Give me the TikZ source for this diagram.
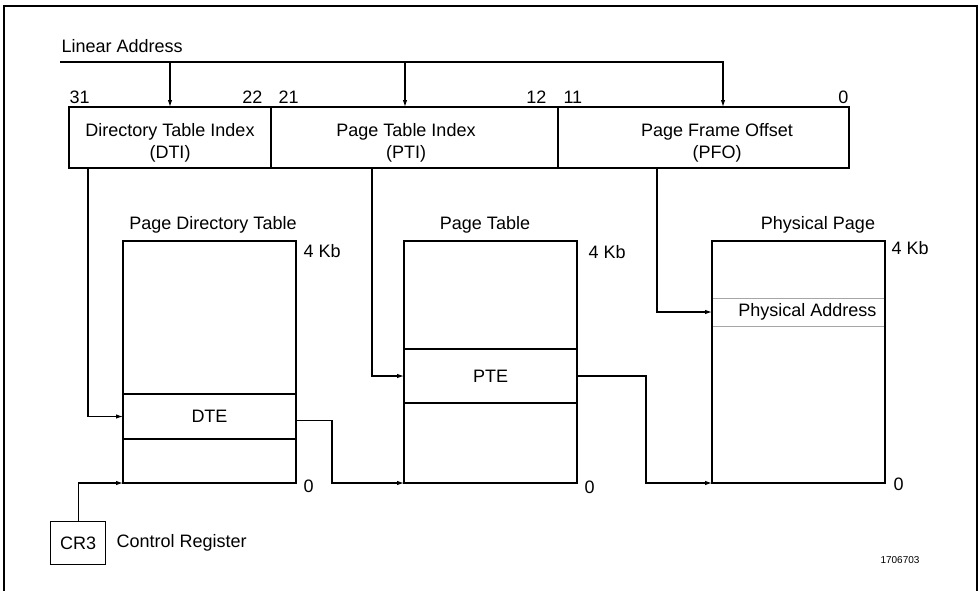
\documentclass[tikz,border=0pt]{standalone}
\usepackage{fontspec}
\setmainfont{Liberation Sans}
\usetikzlibrary{positioning,arrows.meta}

\begin{document}
\begin{tikzpicture}[
  x=1pt, y=-1pt,
  font=\fontsize{18}{22}\selectfont,
  line width=1.1pt,
  field/.style={draw, rectangle, inner sep=0pt, outer sep=0pt,
                minimum height=61pt, anchor=north west},
  cell/.style={draw, rectangle, inner sep=0pt, outer sep=0pt,
               minimum width=173pt},
  bitno/.style={inner sep=0pt},
  tlab/.style={anchor=base, inner sep=0pt},
  size/.style={anchor=base west, inner sep=0pt},
  rowline/.style={draw=black!35, line width=0.8pt},
  flow/.style={-{Latex[length=7pt,width=4.5pt]}},
]
\useasboundingbox (0,0) rectangle (979,590);

% --- frame ---
\draw[line width=1.8pt] (4,596) -- (4,6) -- (977,6) -- (977,596);

% --- linear address ---
\node[anchor=base west, inner sep=0pt] (lin) at (61,52) {Linear Address};
\node[field, minimum width=202pt] (dti) at (69,107) {};
\node[field, minimum width=287pt, right=0pt of dti] (pti) {};
\node[field, minimum width=291pt, right=0pt of pti] (pfo) {};

\node[align=center] (dtitxt) at (170,143) {Directory Table Index\\(DTI)};
\node[align=center] (ptitxt) at (406,143) {Page Table Index\\(PTI)};
\node[align=center] (pfotxt) at (717,143) {Page Frame Offset\\(PFO)};

\node[bitno, anchor=south west] (b31) at (69,104) {31};
\node[bitno, anchor=south east] (b22) at (263,104) {22};
\node[bitno, anchor=south west] (b21) at (278,104) {21};
\node[bitno, anchor=south east] (b12) at (547,104) {12};
\node[bitno, anchor=south west] (b11) at (563,104) {11};
\node[bitno, anchor=south east] (b0) at (849,104) {0};

\coordinate (bus) at (60,62);
\coordinate (inD) at ([xshift=101pt]dti.north west);
\coordinate (inP) at ([xshift=134pt]pti.north west);
\coordinate (inF) at ([xshift=165pt]pfo.north west);
\draw[flow] (bus) -| (inF);
\draw[flow] (bus -| inD) -- (inD);
\draw[flow] (bus -| inP) -- (inP);

% --- page directory table ---
\node[cell, minimum height=153pt, anchor=north west] (pdtTop) at (123,241) {};
\node[cell, minimum height=45pt, below=0pt of pdtTop] (dte) {DTE};
\node[cell, minimum height=44pt, below=0pt of dte] (pdtBot) {};
\node[tlab] (pdtname) at (213,229) {Page Directory Table};
\node[size] (pdtmax) at (303,257) {4 Kb};
\node[size] (pdtmin) at (303,492) {0};

% --- page table ---
\node[cell, minimum height=108pt, anchor=north west] (ptTop) at (404,241) {};
\node[cell, minimum height=54pt, below=0pt of ptTop] (pte) {PTE};
\node[cell, minimum height=80pt, below=0pt of pte] (ptBot) {};
\node[tlab] (ptname) at (485,229) {Page Table};
\node[size] (ptmax) at (588,258) {4 Kb};
\node[size] (ptmin) at (584,493) {0};

% --- physical page ---
\node[cell, draw=none, minimum height=28pt, anchor=north west] (paddr) at (712,298) {};
\draw[rowline] (paddr.north west) -- (paddr.north east)
               (paddr.south west) -- (paddr.south east);
\node[cell, minimum height=242pt, anchor=north west] (pp) at (712,241) {};
\node[anchor=east, inner sep=0pt] (paddrtxt) at ([xshift=-8pt]paddr.east) {Physical Address};
\node[tlab] (ppname) at (818,229) {Physical Page};
\node[size] (ppmax) at (891,254) {4 Kb};
\node[size] (ppmin) at (893,490) {0};

% --- control register ---
\node[draw, inner sep=0pt, minimum width=55pt, minimum height=43pt,
      anchor=north west] (cr3) at (50,521) {CR3};
\node[right=10pt of cr3, inner sep=0pt] (cr3name) {Control Register};
\node[font=\fontsize{10}{12}\selectfont] (figno) at (900,560) {1706703};

% --- connectors ---
\draw[flow] ([xshift=19pt]dti.south west) |- (dte.west);
\draw[flow] ([xshift=101pt]pti.south west) |- (pte.west);
\draw[flow] ([xshift=99pt]pfo.south west) |- (paddr.west);
\draw[flow] ([yshift=-4pt]dte.east) -- ++(36,0) |- (ptBot.south west);
\draw[flow] (pte.east) -- ++(69,0) |- (pp.south west);
\draw[flow] (cr3.north) |- (pdtBot.south west);
\end{tikzpicture}
\end{document}
